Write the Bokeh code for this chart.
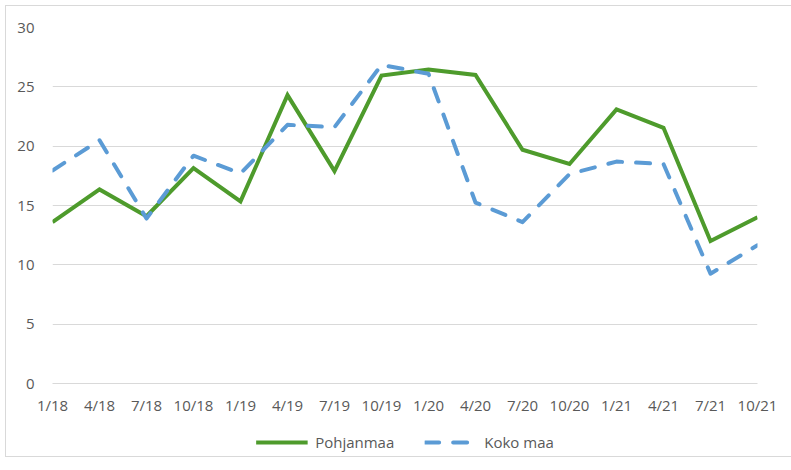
from bokeh.plotting import figure
from bokeh.models import Range1d, FixedTicker, Legend, LegendItem
from bokeh.layouts import column
from bokeh.embed import file_html
from bokeh.resources import INLINE

quarters = ["1/18", "4/18", "7/18", "10/18", "1/19", "4/19", "7/19", "10/19",
            "1/20", "4/20", "7/20", "10/20", "1/21", "4/21", "7/21", "10/21"]
pohjanmaa = [13.6, 16.35, 14.1, 18.15, 15.35, 24.3, 17.9, 25.95,
             26.45, 26.0, 19.7, 18.5, 23.1, 21.55, 12.0, 14.0]
koko_maa = [17.95, 20.5, 13.9, 19.2, 17.7, 21.8, 21.6, 26.85,
            26.1, 15.25, 13.6, 17.65, 18.7, 18.5, 9.25, 11.65]
y_ticks = [0, 5, 10, 15, 20, 25, 30]

xs = list(range(len(quarters)))
font = "Open Sans"
lab_col = "#595959"
green = "#4E9B2C"
blue = "#5B9BD5"

p = figure(width=789, height=422, output_backend="svg", toolbar_location=None,
           x_range=Range1d(0, len(quarters) - 1), y_range=Range1d(0, 30),
           min_border_left=46, min_border_right=38, min_border_top=21,
           min_border_bottom=45)
p.frame_width = 705
p.frame_height = 356
p.outline_line_color = None

p.xgrid.grid_line_color = None
p.ygrid.grid_line_color = "#D9D9D9"
p.ygrid.grid_line_width = 1
p.yaxis.ticker = FixedTicker(ticks=y_ticks)
p.xaxis.ticker = FixedTicker(ticks=xs)
p.xaxis.major_label_overrides = {i: q for i, q in enumerate(quarters)}

for ax in (p.xaxis, p.yaxis):
    ax.major_tick_line_color = None
    ax.minor_tick_line_color = None
    ax.major_label_text_font = font
    ax.major_label_text_font_size = "15px"
    ax.major_label_text_color = lab_col
p.yaxis.axis_line_color = None
p.xaxis.axis_line_color = "#D9D9D9"
p.yaxis.major_label_standoff = 12
p.xaxis.major_label_standoff = 5

p.line(xs, pohjanmaa, line_color=green, line_width=4, line_join="miter")
p.line(xs, koko_maa, line_color=blue, line_width=4, line_dash="14 14",
       line_cap="round", line_join="round")

# Legend strip below the chart (series drawn outside its visible range)
p2 = figure(width=789, height=28, output_backend="svg", toolbar_location=None,
            x_range=Range1d(0, len(quarters) - 1), y_range=Range1d(100, 101),
            min_border=0)
p2.axis.visible = False
p2.grid.visible = False
p2.outline_line_color = None
l1 = p2.line(xs, pohjanmaa, line_color=green, line_width=4)
l2 = p2.line(xs, koko_maa, line_color=blue, line_width=4, line_dash="14 14",
             line_cap="round")

legend = Legend(items=[LegendItem(label="Pohjanmaa", renderers=[l1]),
                       LegendItem(label="Koko maa", renderers=[l2])],
                orientation="horizontal", location="center",
                label_text_font=font, label_text_font_size="15px",
                label_text_color=lab_col, glyph_width=52, glyph_height=20,
                spacing=30, border_line_color=None, background_fill_alpha=0,
                margin=0, padding=0, label_standoff=8)
p2.add_layout(legend, "center")

layout = column(p, p2, spacing=0,
                styles={"border": "1px solid #D9D9D9", "margin-left": "5px",
                        "margin-top": "5px"})

open("out.html", "w").write(file_html(layout, INLINE))
